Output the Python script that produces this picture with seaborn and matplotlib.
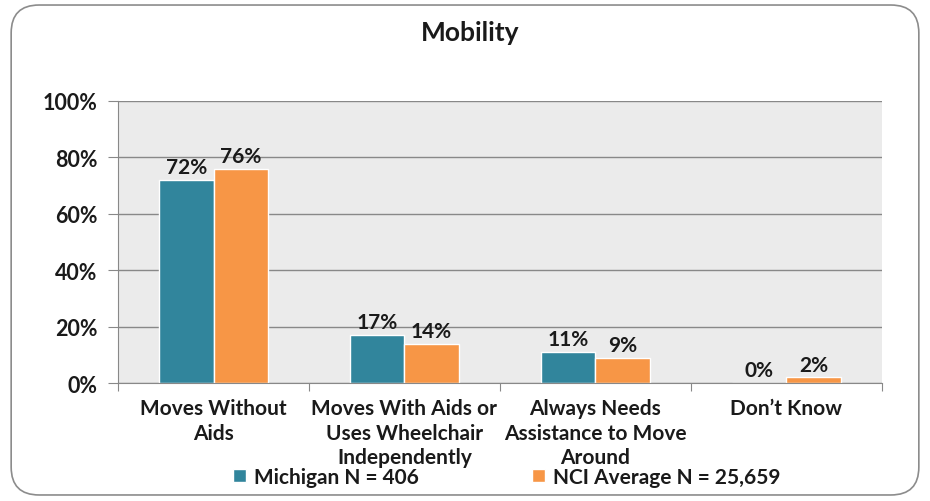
import numpy as np
import pandas as pd
import matplotlib
matplotlib.use("Agg")
import matplotlib.pyplot as plt
import seaborn as sns
from matplotlib.patches import FancyBboxPatch, Patch

# data
categories = [
    "Moves Without\nAids",
    "Moves With Aids or\nUses Wheelchair\nIndependently",
    "Always Needs\nAssistance to Move\nAround",
    "Don\u2019t Know",
]
series = ["Michigan N = 406", "NCI Average N = 25,659"]
michigan = [72, 17, 11, 0]
nci = [76, 14, 9, 2]
colors = ["#31859C", "#F79646"]

df = pd.DataFrame({
    "category": categories * 2,
    "value": michigan + nci,
    "series": [series[0]] * 4 + [series[1]] * 4,
})

sns.set_style("white")
plt.rcParams["font.family"] = ["Lato", "DejaVu Sans"]
plt.rcParams["font.weight"] = "bold"
plt.rcParams["text.color"] = "#1A1A1A"

fig = plt.figure(figsize=(9.3, 5.02), dpi=100)
ax = fig.add_axes([0.127, 0.235, 0.821, 0.562])

# rounded chart border
fig.patches.append(FancyBboxPatch(
    (0.012, 0.012), 0.976, 0.976, boxstyle="round,pad=0,rounding_size=0.03",
    transform=fig.transFigure, fill=False, edgecolor="#8C8C8C", linewidth=1.2,
    mutation_aspect=930 / 502))

sns.barplot(data=df, x="category", y="value", hue="series", palette=colors,
            width=0.57, saturation=1, ax=ax, legend=False)

ax.set_facecolor("#EBEBEB")
ax.set_ylim(0, 100)
ax.set_xlim(-0.5, 3.5)
ax.set_yticks(np.arange(0, 101, 20))
ax.set_yticklabels([f"{v}%" for v in range(0, 101, 20)], fontsize=15.5,
                   fontweight="bold", color="#1A1A1A")
ax.yaxis.grid(True, color="#888888", linewidth=1)
ax.set_axisbelow(True)
ax.set_xlabel("")
ax.set_ylabel("")
for s in ["top", "right"]:
    ax.spines[s].set_visible(False)
ax.spines["left"].set_color("#888888")
ax.spines["bottom"].set_color("#888888")
ax.tick_params(axis="y", length=7, color="#888888", left=True, pad=8)

# category labels between boundary ticks
ax.set_xticks([-0.5, 0.5, 1.5, 2.5, 3.5])
ax.set_xticklabels([])
ax.tick_params(axis="x", length=6, color="#888888", bottom=True)
for i, c in enumerate(categories):
    ax.text(i, -5.2, c, ha="center", va="top", fontsize=15, fontweight="bold",
            linespacing=1.3, transform=ax.transData)

for cont in ax.containers:
    ax.bar_label(cont, labels=[f"{int(v)}%" for v in cont.datavalues],
                 fontsize=15, fontweight="bold", padding=2)

fig.text(0.505, 0.934, "Mobility", ha="center", va="center", fontsize=19, fontweight="bold")

handles = [Patch(facecolor=c) for c in colors]
fig.legend(handles, series, loc="center", bbox_to_anchor=(0.545, 0.048), ncol=2,
           frameon=False, fontsize=15, handlelength=0.6, handleheight=0.6,
           handletextpad=0.4, columnspacing=5.45)

fig.savefig("out.png", dpi=100)
